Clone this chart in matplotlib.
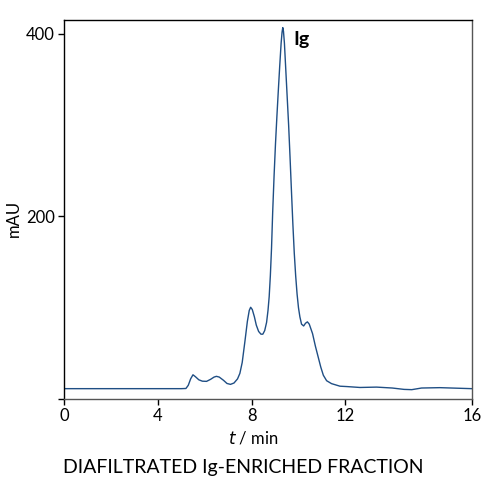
import matplotlib
matplotlib.use("Agg")
import matplotlib.pyplot as plt

plt.rcParams['font.family'] = ['Lato', 'DejaVu Sans']

# chromatogram (time in min, absorbance in mAU)
t_min = [0.0, 2.0, 5.0, 5.2, 5.3, 5.4, 5.5, 5.6, 5.75, 5.9, 6.08, 6.25, 6.4, 6.5,
         6.62, 6.8, 6.95, 7.1, 7.25, 7.4, 7.5, 7.6, 7.72, 7.82, 7.9, 7.96, 8.03,
         8.12, 8.2, 8.3, 8.4, 8.48, 8.56, 8.64, 8.7, 8.75, 8.8, 8.85, 8.9, 8.96,
         9.02, 9.08, 9.14, 9.2, 9.26, 9.3, 9.33, 9.36, 9.4, 9.46, 9.52, 9.58,
         9.64, 9.7, 9.76, 9.82, 9.88, 9.94, 10.0, 10.06, 10.13,
         10.22, 10.3, 10.38, 10.46, 10.6, 10.72, 10.84, 10.95, 11.06, 11.2, 11.41,
         11.77, 12.06, 12.62, 13.33, 14.0, 14.5, 14.83, 15.25, 16.03, 17.39]
mau = [11.3, 11.3, 11.3, 11.5, 15, 22, 26.5, 24.5, 21, 19.5, 19.3, 21.5, 24, 24.8,
       24, 20.5, 17, 16, 17.5, 22, 28, 40, 64, 85, 97, 100.5, 98,
       90, 81, 74, 71, 71, 75, 84, 97, 112, 135, 165, 205, 245,
       280, 310, 338, 365, 390, 402, 407, 403, 390, 360, 330, 300,
       265, 228, 192, 160, 135, 115, 100, 90, 82,
       80, 83, 84.5, 82, 71.6, 58, 46, 35, 26, 20, 16.8,
       14, 13.6, 12.6, 13, 12, 10.5, 10.2, 12, 12.4, 11.3]

x_ticks = [0, 4, 8, 12, 17.39]
x_tick_labels = ['0', '4', '8', '12', '16']
y_ticks = [0, 200, 400]
y_tick_labels = ['', '200', '400']

fig = plt.figure(figsize=(4.86, 4.95), dpi=100)
ax = fig.add_axes([0.1317, 0.194, 0.839, 0.765])

ax.plot(t_min, mau, color='#1f4e84', linewidth=1.0)

ax.set_xlim(0, 17.39)
ax.set_ylim(0, 415)
ax.set_xticks(x_ticks)
ax.set_xticklabels(x_tick_labels)
ax.set_yticks(y_ticks)
ax.set_yticklabels(y_tick_labels)
ax.tick_params(direction='out', length=4.5, width=1.0, labelsize=12, pad=2)

for side in ['left', 'top']:
    ax.spines[side].set_color('black')
for side in ['bottom', 'right']:
    ax.spines[side].set_color('#555555')
for sp in ax.spines.values():
    sp.set_linewidth(1.0)

ax.text(10.15, 394, 'Ig', fontsize=14, fontweight='bold', ha='center', va='center')

fig.text(253 / 486, 1 - 438 / 495, '$t$ / min', fontsize=12, ha='center', va='center')
fig.text(14 / 486, 1 - 218 / 495, 'mAU', fontsize=12, rotation=90, ha='center', va='center')
fig.text(243 / 486, 1 - 468 / 495, 'DIAFILTRATED Ig-ENRICHED FRACTION', fontsize=14,
         ha='center', va='center')

fig.savefig('out.png', dpi=100)
